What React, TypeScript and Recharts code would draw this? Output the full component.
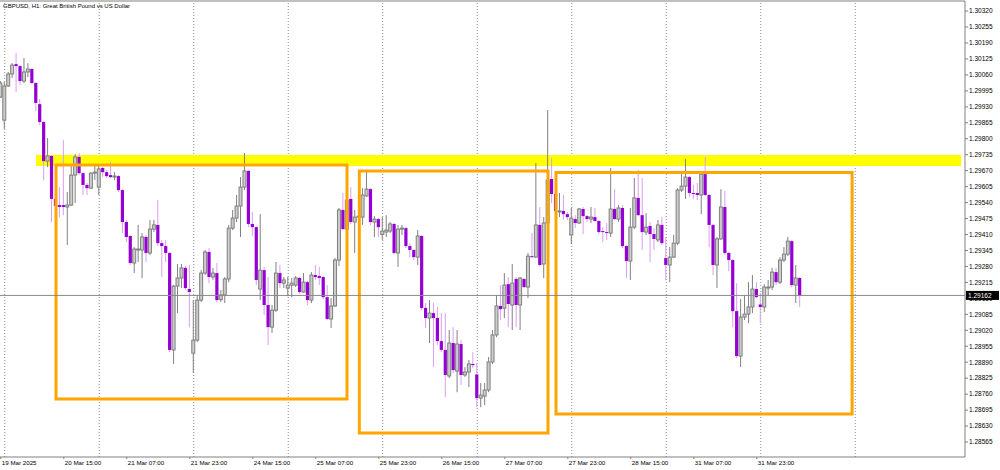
import React from 'react';
import { ComposedChart, Bar, XAxis, YAxis, ReferenceLine, ReferenceArea } from 'recharts';

const opens = [1.29970,1.29876,1.30015,1.30064,1.30104,1.30096,1.30035,1.30072,1.30084,1.30027,1.29941,1.29868,1.29709,1.29730,1.29555,1.29530,1.29530,1.29522,1.29530,1.29652,1.29726,1.29660,1.29612,1.29599,1.29660,1.29603,1.29681,1.29664,1.29652,1.29644,1.29648,1.29591,1.29461,1.29404,1.29294,1.29347,1.29347,1.29400,1.29335,1.29432,1.29449,1.29375,1.29363,1.29335,1.28940,1.29200,1.29233,1.29274,1.29188,1.28927,1.28980,1.29143,1.29253,1.29339,1.29237,1.29253,1.29145,1.29164,1.29229,1.29436,1.29477,1.29526,1.29603,1.29669,1.29453,1.29440,1.29188,1.29265,1.29123,1.29033,1.29102,1.29253,1.29212,1.29192,1.29204,1.29204,1.29233,1.29176,1.29216,1.29143,1.29245,1.29241,1.29237,1.29155,1.29066,1.29119,1.29306,1.29510,1.29432,1.29555,1.29461,1.29481,1.29481,1.29567,1.29595,1.29461,1.29473,1.29410,1.29420,1.29424,1.29453,1.29335,1.29432,1.29436,1.29363,1.29347,1.29318,1.29404,1.29111,1.29070,1.29090,1.29070,1.28976,1.28940,1.28834,1.28968,1.28854,1.28964,1.28838,1.28850,1.28883,1.28840,1.28744,1.28752,1.28777,1.28891,1.29001,1.29119,1.29110,1.29208,1.29123,1.29229,1.29123,1.29229,1.29196,1.29322,1.29318,1.29449,1.29290,1.29457,1.29636,1.29575,1.29502,1.29506,1.29493,1.29408,1.29473,1.29457,1.29514,1.29485,1.29473,1.29481,1.29465,1.29424,1.29420,1.29416,1.29514,1.29473,1.29518,1.29363,1.29302,1.29440,1.29559,1.29489,1.29420,1.29445,1.29412,1.29388,1.29449,1.29314,1.29286,1.29318,1.29375,1.29591,1.29607,1.29644,1.29579,1.29579,1.29571,1.29656,1.29571,1.29449,1.29286,1.29392,1.29522,1.29335,1.29306,1.29098,1.28915,1.29074,1.29086,1.29115,1.29188,1.29125,1.29115,1.29192,1.29196,1.29257,1.29216,1.29306,1.29330,1.29383,1.29204,1.29233];

const highs = [1.30035,1.30031,1.30072,1.30108,1.30149,1.30100,1.30129,1.30108,1.30088,1.30031,1.29962,1.29872,1.29803,1.29734,1.29591,1.29603,1.29795,1.29583,1.29693,1.29738,1.29742,1.29664,1.29620,1.29664,1.29693,1.29693,1.29685,1.29673,1.29705,1.29664,1.29652,1.29595,1.29469,1.29408,1.29359,1.29449,1.29416,1.29408,1.29469,1.29469,1.29550,1.29388,1.29388,1.29339,1.29204,1.29290,1.29290,1.29282,1.29286,1.29143,1.29164,1.29265,1.29347,1.29355,1.29274,1.29294,1.29184,1.29237,1.29449,1.29510,1.29571,1.29644,1.29742,1.29673,1.29502,1.29445,1.29493,1.29278,1.29237,1.29123,1.29298,1.29286,1.29237,1.29237,1.29233,1.29241,1.29237,1.29253,1.29221,1.29257,1.29286,1.29278,1.29241,1.29204,1.29151,1.29314,1.29518,1.29579,1.29567,1.29603,1.29510,1.29518,1.29599,1.29664,1.29599,1.29485,1.29477,1.29481,1.29489,1.29461,1.29457,1.29449,1.29449,1.29440,1.29375,1.29351,1.29428,1.29408,1.29131,1.29143,1.29131,1.29115,1.29090,1.29090,1.29021,1.29033,1.29021,1.28980,1.28870,1.28899,1.28931,1.28887,1.28805,1.28805,1.28911,1.29021,1.29164,1.29204,1.29253,1.29237,1.29290,1.29237,1.29237,1.29233,1.29335,1.29416,1.29701,1.29522,1.29481,1.29917,1.29721,1.29599,1.29579,1.29571,1.29502,1.29518,1.29489,1.29518,1.29522,1.29489,1.29522,1.29518,1.29469,1.29440,1.29457,1.29681,1.29595,1.29530,1.29530,1.29367,1.29518,1.29640,1.29673,1.29640,1.29497,1.29461,1.29436,1.29469,1.29481,1.29400,1.29359,1.29408,1.29599,1.29660,1.29717,1.29648,1.29612,1.29620,1.29660,1.29726,1.29575,1.29453,1.29400,1.29595,1.29587,1.29339,1.29310,1.29212,1.29147,1.29164,1.29216,1.29245,1.29216,1.29172,1.29208,1.29225,1.29274,1.29274,1.29318,1.29359,1.29400,1.29388,1.29286,1.29237];

const lows = [1.29966,1.29840,1.30011,1.30047,1.29990,1.30019,1.30027,1.30051,1.30023,1.29913,1.29856,1.29632,1.29685,1.29461,1.29489,1.29481,1.29489,1.29367,1.29526,1.29538,1.29652,1.29571,1.29571,1.29595,1.29632,1.29571,1.29644,1.29640,1.29640,1.29632,1.29583,1.29416,1.29379,1.29286,1.29253,1.29298,1.29233,1.29298,1.29326,1.29420,1.29363,1.29237,1.29298,1.28931,1.28883,1.29090,1.29192,1.29184,1.29033,1.28846,1.28972,1.29135,1.29245,1.29212,1.29225,1.29135,1.29135,1.29131,1.29216,1.29428,1.29461,1.29400,1.29591,1.29440,1.29404,1.29204,1.29143,1.29082,1.28960,1.29009,1.29094,1.29192,1.29192,1.29159,1.29155,1.29196,1.29168,1.29172,1.29123,1.29131,1.29225,1.29204,1.29147,1.29062,1.29029,1.29115,1.29282,1.29428,1.29424,1.29453,1.29335,1.29461,1.29449,1.29563,1.29449,1.29400,1.29400,1.29388,1.29400,1.29416,1.29330,1.29278,1.29408,1.29355,1.29318,1.29306,1.29286,1.29102,1.29029,1.28968,1.28870,1.28960,1.28931,1.28748,1.28825,1.28846,1.28768,1.28797,1.28830,1.28789,1.28866,1.28707,1.28707,1.28716,1.28768,1.28883,1.28992,1.29062,1.29070,1.29033,1.29021,1.29033,1.29021,1.29192,1.29151,1.29314,1.29314,1.29282,1.29233,1.29286,1.29538,1.29497,1.29481,1.29469,1.29469,1.29371,1.29436,1.29453,1.29412,1.29461,1.29457,1.29461,1.29412,1.29379,1.29388,1.29400,1.29469,1.29461,1.29355,1.29233,1.29225,1.29432,1.29485,1.29347,1.29408,1.29298,1.29347,1.29379,1.29367,1.29225,1.29216,1.29314,1.29367,1.29583,1.29555,1.29563,1.29555,1.29550,1.29493,1.29567,1.29359,1.29245,1.29192,1.29388,1.29326,1.29261,1.29033,1.28907,1.28870,1.29062,1.29049,1.29090,1.29151,1.29049,1.29094,1.29159,1.29184,1.29204,1.29208,1.29298,1.29322,1.29196,1.29131,1.29115];

const closes = [1.30027,1.30015,1.30064,1.30100,1.30096,1.30035,1.30072,1.30084,1.30027,1.29946,1.29868,1.29709,1.29730,1.29555,1.29526,1.29522,1.29522,1.29530,1.29652,1.29726,1.29660,1.29612,1.29599,1.29660,1.29664,1.29677,1.29664,1.29648,1.29644,1.29648,1.29591,1.29461,1.29400,1.29294,1.29351,1.29351,1.29400,1.29335,1.29432,1.29449,1.29375,1.29363,1.29335,1.28940,1.29200,1.29233,1.29274,1.29192,1.29176,1.28980,1.29143,1.29253,1.29339,1.29237,1.29253,1.29143,1.29164,1.29229,1.29436,1.29477,1.29526,1.29603,1.29669,1.29453,1.29440,1.29225,1.29265,1.29123,1.29033,1.29102,1.29253,1.29212,1.29225,1.29204,1.29212,1.29233,1.29176,1.29216,1.29143,1.29245,1.29237,1.29233,1.29155,1.29066,1.29119,1.29306,1.29510,1.29432,1.29550,1.29461,1.29481,1.29485,1.29571,1.29595,1.29461,1.29473,1.29440,1.29424,1.29428,1.29453,1.29335,1.29432,1.29436,1.29363,1.29347,1.29318,1.29404,1.29111,1.29070,1.29090,1.29070,1.28976,1.28940,1.28838,1.28968,1.28858,1.28964,1.28838,1.28850,1.28883,1.28878,1.28744,1.28756,1.28777,1.28891,1.29001,1.29119,1.29106,1.29204,1.29127,1.29212,1.29123,1.29233,1.29196,1.29322,1.29318,1.29449,1.29286,1.29457,1.29632,1.29575,1.29506,1.29506,1.29493,1.29481,1.29477,1.29457,1.29514,1.29485,1.29473,1.29481,1.29465,1.29420,1.29420,1.29416,1.29514,1.29473,1.29518,1.29363,1.29302,1.29440,1.29559,1.29489,1.29420,1.29440,1.29412,1.29392,1.29449,1.29375,1.29286,1.29318,1.29375,1.29591,1.29607,1.29644,1.29579,1.29575,1.29571,1.29656,1.29571,1.29449,1.29286,1.29392,1.29522,1.29335,1.29306,1.29098,1.28915,1.29074,1.29086,1.29115,1.29188,1.29155,1.29115,1.29196,1.29196,1.29257,1.29216,1.29306,1.29330,1.29383,1.29204,1.29233,1.29162];

const xTickBars = [0, 16, 32, 48, 64, 80, 96, 112, 128, 144, 160, 176, 192];
const xTickLabels = ['19 Mar 2025', '20 Mar 15:00', '21 Mar 07:00', '21 Mar 23:00', '24 Mar 15:00', '25 Mar 07:00', '25 Mar 23:00', '26 Mar 15:00', '27 Mar 07:00', '27 Mar 23:00', '28 Mar 15:00', '31 Mar 07:00', '31 Mar 23:00'];
const dayStartBars = [1, 25, 49, 73, 97, 121, 145, 169, 193, 217];
const priceTicks = [1.30320, 1.30255, 1.30190, 1.30125, 1.30060, 1.29995, 1.29930, 1.29865, 1.29800, 1.29735, 1.29670, 1.29605, 1.29540, 1.29475, 1.29410, 1.29345, 1.29280, 1.29215, 1.29150, 1.29085, 1.29020, 1.28955, 1.28890, 1.28825, 1.28760, 1.28695, 1.28630, 1.28565];
const currentPrice = 1.29162;
const xDomain = [-0.203, 244.87];
const yDomain = [1.28504, 1.30361];

const zoneBars = [8.94, 243.9];
const zonePrices = [1.29689, 1.29734];
const boxStartBars = [14.02, 91.05, 141.0];
const boxEndBars = [87.92, 138.97, 216.2];
const boxTops = [1.29693, 1.29669, 1.29663];
const boxBottoms = [1.28740, 1.28602, 1.28679];

const title = 'GBPUSD, H1:  Great British Pound vs US Dollar';

const FONT = '"Liberation Sans", Arial, sans-serif';

const data = opens.map((o, i) => {
  const c = closes[i];
  const h = Math.max(highs[i], o, c);
  const l = Math.min(lows[i], o, c);
  return { i, o, h, l, c, range: [l, h] };
});

const Candle = (props: any) => {
  const { x, y, width, height, payload } = props;
  if (!payload || x == null || y == null) return null;
  const { o, h, l, c } = payload;
  const cx = x + width / 2;
  const top = Math.min(y, y + height);
  const span = Math.abs(height);
  const per = h > l ? span / (h - l) : 0;
  const yOf = (v: number) => top + (h - v) * per;
  const bull = c >= o;
  const bTop = yOf(Math.max(o, c));
  const bBot = yOf(Math.min(o, c));
  const bh = Math.max(1, bBot - bTop);
  if (bull) {
    return (
      <g>
        <line x1={cx} x2={cx} y1={top} y2={top + span} stroke="#808080" strokeWidth={1} />
        <rect x={cx - 1.5} y={bTop} width={3} height={bh} fill="#cccccc" stroke="#808080" strokeWidth={1} />
      </g>
    );
  }
  return (
    <g>
      <line x1={cx} x2={cx} y1={top} y2={top + span} stroke="#d89ef2" strokeWidth={1} />
      <rect x={cx - 1.6} y={bTop} width={3.2} height={bh} fill="#9400d3" />
    </g>
  );
};

const XTick = (props: any) => {
  const { x, y, payload } = props;
  const idx = xTickBars.indexOf(payload.value);
  if (idx < 0) return null;
  return (
    <text x={x + 1} y={y} dy="0.71em" fontSize={6.2} fontFamily={FONT} fill="#000" textAnchor="start">
      {xTickLabels[idx]}
    </text>
  );
};

const PriceBadge = (props: any) => {
  const vb = props.viewBox || {};
  const right = (vb.x || 0) + (vb.width || 0);
  const yy = vb.y || 0;
  return (
    <g>
      <rect x={right + 1} y={yy - 4.5} width={33} height={9} fill="#000" />
      <text x={right + 3} y={yy} dy="0.355em" fontSize={6.5} fontFamily={FONT} fill="#fff">
        {currentPrice.toFixed(5)}
      </text>
    </g>
  );
};

export default function App() {
  return (
    <div style={{ position: 'absolute', left: 0, top: 0, width: 1000, height: 470, background: '#fff' }}>
      <ComposedChart width={1000} height={470} data={data} margin={{ top: 1, right: 0, bottom: 0, left: 0 }}>
        <XAxis
          dataKey="i"
          type="number"
          domain={xDomain}
          allowDataOverflow
          ticks={xTickBars}
          interval={0}
          height={13}
          tickSize={2}
          tickMargin={2}
          tick={<XTick />}
          axisLine={{ stroke: '#808080' }}
          tickLine={{ stroke: '#808080' }}
        />
        <YAxis
          orientation="right"
          type="number"
          domain={yDomain}
          allowDataOverflow
          ticks={priceTicks}
          interval={0}
          width={35}
          tickSize={3}
          tickMargin={1}
          tick={{ fontSize: 6.5, fill: '#000', fontFamily: FONT }}
          tickFormatter={(v: number) => v.toFixed(5)}
          axisLine={{ stroke: '#808080' }}
          tickLine={{ stroke: '#808080' }}
        />
        {dayStartBars.map((b) => (
          <ReferenceLine key={'g' + b} x={b} stroke="#8c8c8c" strokeDasharray="1 2" strokeWidth={1} zIndex={-50} />
        ))}
        <ReferenceArea
          x1={zoneBars[0]}
          x2={zoneBars[1]}
          y1={zonePrices[0]}
          y2={zonePrices[1]}
          fill="#ffff00"
          fillOpacity={1}
          stroke="none"
          zIndex={-40}
        />
        <Bar dataKey="range" barSize={3} shape={<Candle />} isAnimationActive={false} />
        <ReferenceLine y={currentPrice} stroke="#8a8a8a" strokeWidth={1} label={<PriceBadge />} zIndex={2500} />
        {boxStartBars.map((b, k) => (
          <ReferenceArea
            key={'box' + k}
            x1={b}
            x2={boxEndBars[k]}
            y1={boxBottoms[k]}
            y2={boxTops[k]}
            fill="none"
            fillOpacity={0}
            stroke="#ffa500"
            strokeWidth={3}
            zIndex={1500}
          />
        ))}
        <ReferenceLine y={yDomain[1]} stroke="#808080" strokeWidth={1} />
      </ComposedChart>
      <svg width={1000} height={20} style={{ position: 'absolute', left: 0, top: 0, pointerEvents: 'none' }}>
        <text x={3} y={8.3} fontSize={6} fontFamily={FONT} fill="#000">
          {title}
        </text>
      </svg>
    </div>
  );
}
